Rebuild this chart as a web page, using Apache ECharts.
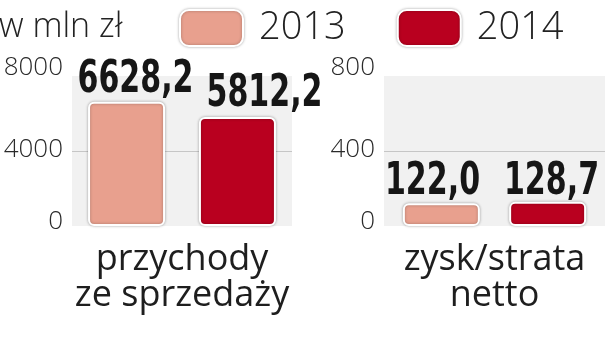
<!DOCTYPE html>
<html>
<head>
<meta charset="utf-8">
<script src="https://cdn.jsdelivr.net/npm/echarts@6/dist/echarts.min.js"></script>
<style>html,body{margin:0;padding:0;background:#fff;}#c{width:616px;height:344px;}</style>
</head>
<body>
<div id="c"></div>
<script>
const categoriesLeft = ['przychody\nze sprzedaży'];
const categoriesRight = ['zysk/strata\nnetto'];
const seriesNames = ['2013', '2014'];
const revenue2013 = [6628.2];
const revenue2014 = [5812.2];
const profit2013 = [122.0];
const profit2014 = [128.7];
const leftTicks = [0, 4000, 8000];
const rightTicks = [0, 400, 800];
const unitLabel = 'w mln zł';

const colors = ['#e8a08e', '#b9001f'];
const lightFont = '"Open Sans", sans-serif';
const boldFont = '"DejaVu Sans Condensed", "DejaVu Sans", sans-serif';

function fmt(v) { return v.toFixed(1).replace('.', ','); }

function yAxis(gi, ticks) {
  const max = ticks[ticks.length - 1];
  return {
    type: 'value', gridIndex: gi, min: ticks[0], max: max, interval: ticks[1] - ticks[0],
    axisLine: { show: false }, axisTick: { show: false },
    splitLine: { show: true, lineStyle: { color: ['transparent', '#c6c6c6', 'transparent'], width: 1 } },
    axisLabel: {
      margin: 9, color: '#2a2a2a', fontFamily: lightFont, fontWeight: 300, fontSize: 26,
      formatter: v => v === max ? '{t|' + v + '}' : (v === 0 ? '{b|' + v + '}' : '{m|' + v + '}'),
      rich: {
        t: { fontFamily: lightFont, fontWeight: 300, fontSize: 26, color: '#2a2a2a', padding: [0, 0, 16, 0] },
        m: { fontFamily: lightFont, fontWeight: 300, fontSize: 26, color: '#2a2a2a', padding: [0, 0, 2, 0] },
        b: { fontFamily: lightFont, fontWeight: 300, fontSize: 26, color: '#2a2a2a', padding: [0, 0, 8, 0] }
      }
    }
  };
}

function xAxis(gi, cats) {
  return {
    type: 'category', gridIndex: gi, data: cats,
    axisLine: { show: false }, axisTick: { show: false },
    axisLabel: { margin: 16, color: '#1e1e1e', fontFamily: lightFont, fontSize: 36, lineHeight: 36 }
  };
}

function bar(name, ci, gi, data, gap) {
  return {
    type: 'bar', name: name, xAxisIndex: gi, yAxisIndex: gi, data: data,
    barWidth: 77, barGap: gap,
    itemStyle: { color: colors[ci], borderColor: '#fff', borderWidth: 2, borderRadius: 5,
      shadowBlur: 3, shadowColor: 'rgba(0,0,0,0.3)' }
  };
}

// value labels: condensed bold text, positioned from the axis scales
function valueLabel(name, gi, data, dx, dy) {
  return {
    type: 'custom', name: name + ' label', xAxisIndex: gi, yAxisIndex: gi,
    data: data.map((v, i) => [i, v]), silent: true, z: 5,
    renderItem: (params, api) => {
      const p = api.coord([api.value(0), api.value(1)]);
      return {
        type: 'text', x: p[0] + dx, y: p[1] + dy, scaleX: 0.76,
        style: { text: fmt(api.value(1)), fontFamily: boldFont, fontWeight: 'bold', fontSize: 44,
          fill: '#161616', align: 'center', verticalAlign: 'bottom' }
      };
    }
  };
}

const chart = echarts.init(document.getElementById('c'));
chart.setOption({
  animation: false,
  title: { text: unitLabel, left: -1, top: 10, padding: 0,
    textStyle: { fontFamily: lightFont, fontWeight: 300, fontSize: 34, color: '#222' } },
  legend: {
    left: 179, top: 9, padding: 0, itemWidth: 63, itemHeight: 36, itemGap: 51, icon: 'roundRect',
    data: seriesNames,
    itemStyle: { borderColor: '#fff', borderWidth: 2, shadowBlur: 3, shadowColor: 'rgba(0,0,0,0.3)' },
    textStyle: { fontFamily: lightFont, fontWeight: 300, fontSize: 38, color: '#222', padding: [0, 0, 0, 11] }
  },
  grid: [
    { left: 72, width: 220, top: 76, height: 150, show: true, backgroundColor: '#f1f1f1', borderWidth: 0 },
    { left: 384, width: 221, top: 76, height: 150, show: true, backgroundColor: '#f1f1f1', borderWidth: 0 }
  ],
  xAxis: [xAxis(0, categoriesLeft), xAxis(1, categoriesRight)],
  yAxis: [yAxis(0, leftTicks), yAxis(1, rightTicks)],
  series: [
    bar(seriesNames[0], 0, 0, revenue2013, '44%'),
    bar(seriesNames[1], 1, 0, revenue2014, '44%'),
    bar(seriesNames[0], 0, 1, profit2013, '38%'),
    bar(seriesNames[1], 1, 1, profit2014, '38%'),
    valueLabel(seriesNames[0], 0, revenue2013, -46.5, 1),
    valueLabel(seriesNames[1], 0, revenue2014, 82.5, 0),
    valueLabel(seriesNames[0], 1, profit2013, -62, 1),
    valueLabel(seriesNames[1], 1, profit2014, 57, 3)
  ]
});
</script>
</body>
</html>
